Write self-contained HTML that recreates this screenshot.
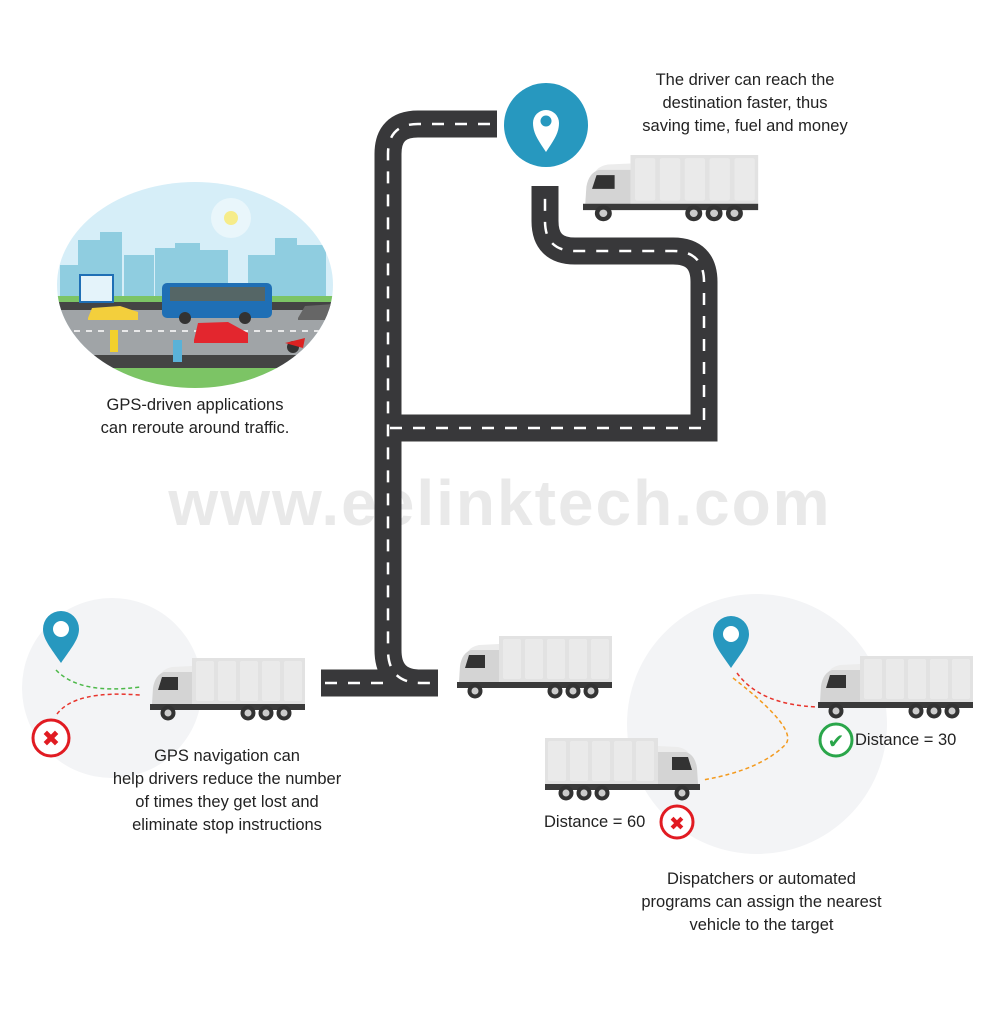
<!DOCTYPE html>
<html><head><meta charset="utf-8"><style>
body{margin:0;background:#fff;}
.t{position:absolute;font-family:"Liberation Sans",sans-serif;font-size:16.5px;color:#222;text-align:center;line-height:23px;}
</style></head><body>
<div style="position:relative;width:1000px;height:1009px;overflow:hidden;">
<svg width="1000" height="1009" viewBox="0 0 1000 1009" style="position:absolute;left:0;top:0">
<defs>
<g id="truck">
  <rect x="42" y="0" width="113" height="46" fill="#e2e2e2"/>
  <rect x="46" y="3" width="18" height="40" rx="2" fill="#eaeaea"/>
  <rect x="68" y="3" width="18" height="40" rx="2" fill="#eaeaea"/>
  <rect x="90" y="3" width="18" height="40" rx="2" fill="#eaeaea"/>
  <rect x="112" y="3" width="18" height="40" rx="2" fill="#eaeaea"/>
  <rect x="134" y="3" width="18" height="40" rx="2" fill="#eaeaea"/>
  <path d="M42 8 L22 9 Q12 11 10 18 L42 18 Z" fill="#ececec"/>
  <path d="M42 14 L14 14 Q5 17 3 30 L2 46 L42 48 Z" fill="#d4d4d4"/>
  <path d="M12 19 L28 19 L28 32 L8 32 Z" fill="#333"/>
  <rect x="0" y="46" width="155" height="6" fill="#3a3a3a"/>
  <circle cx="18" cy="55" r="7.5" fill="#333"/><circle cx="18" cy="55" r="3.5" fill="#ccc"/>
  <circle cx="98" cy="55" r="7.5" fill="#333"/><circle cx="98" cy="55" r="3.5" fill="#ccc"/>
  <circle cx="116" cy="55" r="7.5" fill="#333"/><circle cx="116" cy="55" r="3.5" fill="#ccc"/>
  <circle cx="134" cy="55" r="7.5" fill="#333"/><circle cx="134" cy="55" r="3.5" fill="#ccc"/>
</g>
<g id="pin"><path d="M0 0 C-11 -16 -18 -24 -18 -34 A18 18 0 1 1 18 -34 C18 -24 11 -16 0 0Z" fill="#2798bf"/><circle cx="0" cy="-34" r="8" fill="#fff"/></g>
<clipPath id="cc"><ellipse cx="195" cy="285" rx="138" ry="103"/></clipPath>
</defs>

<circle cx="112" cy="688" r="90" fill="#f3f4f6"/>
<circle cx="757" cy="724" r="130" fill="#f3f4f6"/>

<g clip-path="url(#cc)">
  <rect x="50" y="180" width="290" height="203" fill="#d6eef8"/>
  <circle cx="231" cy="218" r="20" fill="#e9f6fb"/><circle cx="231" cy="218" r="7" fill="#f6ec8a"/>
  <g fill="#8fcde0">
    <rect x="60" y="265" width="20" height="35"/><rect x="78" y="240" width="22" height="60"/><rect x="100" y="232" width="22" height="68"/><rect x="124" y="255" width="30" height="45"/>
    <rect x="155" y="248" width="22" height="52"/><rect x="175" y="243" width="25" height="57"/><rect x="200" y="250" width="28" height="50"/>
    <rect x="248" y="255" width="30" height="45"/><rect x="275" y="238" width="22" height="62"/><rect x="296" y="245" width="30" height="55"/>
  </g>
  <rect x="50" y="296" width="290" height="6" fill="#7cc465"/>
  <rect x="50" y="302" width="290" height="8" fill="#444"/>
  <rect x="50" y="310" width="290" height="45" fill="#a0a4a7"/>
  <line x1="50" y1="331" x2="340" y2="331" stroke="#fff" stroke-width="1.5" stroke-dasharray="6 6"/>
  <rect x="50" y="355" width="290" height="13" fill="#444"/>
  <rect x="50" y="368" width="290" height="20" fill="#7cc465"/>
  <rect x="80" y="275" width="33" height="27" fill="#e4f3fa" stroke="#1f6fb5" stroke-width="2"/>
  <rect x="162" y="283" width="110" height="35" rx="5" fill="#1f6fb5"/><rect x="170" y="287" width="95" height="14" fill="#566"/>
  <circle cx="185" cy="318" r="6" fill="#333"/><circle cx="245" cy="318" r="6" fill="#333"/>
  <path d="M88 318 L92 308 L120 306 L138 312 L138 320 L88 320Z" fill="#f3cf3c"/>
  <path d="M194 340 L198 323 L228 322 L248 333 L248 343 L194 343Z" fill="#e3262e"/>
  <path d="M298 318 L305 306 L335 304 L335 320 L298 320Z" fill="#666"/>
  <circle cx="293" cy="347" r="6" fill="#333"/><path d="M285 343 L305 338 L303 348Z" fill="#d22"/>
  <rect x="110" y="330" width="8" height="22" fill="#f2d02c"/><rect x="173" y="340" width="9" height="22" fill="#5ab2d8"/>
</g>

<text x="500" y="525" text-anchor="middle" font-family="Liberation Sans, sans-serif" font-weight="bold" font-size="64" fill="#e9e9e9" letter-spacing="2">www.eelinktech.com</text>

<g fill="none" stroke="#38383a" stroke-width="27">
  <path d="M497 124 L418 124 Q388 124 388 154 L388 650 Q388 683 421 683 L438 683"/>
  <path d="M321 683 L438 683"/>
  <path d="M388 428 L704 428 L704 282 Q704 251 673 251 L575 251 Q545 251 545 221 L545 186"/>
</g>
<g fill="none" stroke="#fff" stroke-width="2.5" stroke-dasharray="12 11">
  <path d="M490 124 L418 124 Q388 124 388 154 L388 650 Q388 683 421 683 L438 683"/>
  <path d="M325 683 L390 683"/>
  <path d="M390 428 L704 428 L704 282 Q704 251 673 251 L575 251 Q545 251 545 221 L545 190"/>
</g>

<circle cx="546" cy="125" r="42" fill="#2798bf"/>
<path d="M546 152 C538 140 533 133 533 123 A13 13 0 1 1 559 123 C559 133 554 140 546 152Z" fill="#fff"/>
<circle cx="546" cy="121" r="5.5" fill="#2798bf"/>

<use href="#truck" transform="translate(583,155) scale(1.13,1.06)"/>
<use href="#truck" transform="translate(150,658)"/>
<use href="#truck" transform="translate(457,636)"/>
<use href="#truck" transform="translate(818,656)"/>
<use href="#truck" transform="translate(700,738) scale(-1,1)"/>

<use href="#pin" transform="translate(61,663)"/>
<path d="M56 670 Q80 695 140 687" fill="none" stroke="#4cb848" stroke-width="1.5" stroke-dasharray="4 3"/>
<path d="M57 714 Q75 690 140 695" fill="none" stroke="#e8342c" stroke-width="1.5" stroke-dasharray="4 3"/>
<circle cx="51" cy="738" r="18" fill="#fff" stroke="#e11b22" stroke-width="3"/>
<text x="51" y="746" text-anchor="middle" font-family="DejaVu Sans, sans-serif" font-weight="bold" font-size="22" fill="#e11b22">✖</text>

<use href="#pin" transform="translate(731,668)"/>
<path d="M737 673 Q760 705 818 707" fill="none" stroke="#e8342c" stroke-width="1.5" stroke-dasharray="4 3"/>
<path d="M733 678 Q800 730 785 745 Q760 770 703 780" fill="none" stroke="#f39a1e" stroke-width="1.5" stroke-dasharray="4 3"/>
<circle cx="836" cy="740" r="16" fill="#fff" stroke="#2aa64a" stroke-width="3"/>
<text x="836" y="748" text-anchor="middle" font-family="DejaVu Sans, sans-serif" font-weight="bold" font-size="20" fill="#2aa64a">✔</text>
<circle cx="677" cy="822" r="16" fill="#fff" stroke="#e11b22" stroke-width="3"/>
<text x="677" y="830" text-anchor="middle" font-family="DejaVu Sans, sans-serif" font-weight="bold" font-size="19" fill="#e11b22">✖</text>
</svg>

<div class="t" style="left:600px;top:69px;width:290px;">The driver can reach the<br>destination faster, thus<br>saving time, fuel and money</div>
<div class="t" style="left:50px;top:394px;width:290px;">GPS-driven applications<br>can reroute around traffic.</div>
<div class="t" style="left:72px;top:745px;width:310px;">GPS navigation can<br>help drivers reduce the number<br>of times they get lost and<br>eliminate stop instructions</div>
<div class="t" style="left:855px;top:729px;text-align:left;">Distance = 30</div>
<div class="t" style="left:544px;top:811px;text-align:left;">Distance = 60</div>
<div class="t" style="left:604px;top:868px;width:315px;">Dispatchers or automated<br>programs can assign the nearest<br>vehicle to the target</div>
</div>
</body></html>
